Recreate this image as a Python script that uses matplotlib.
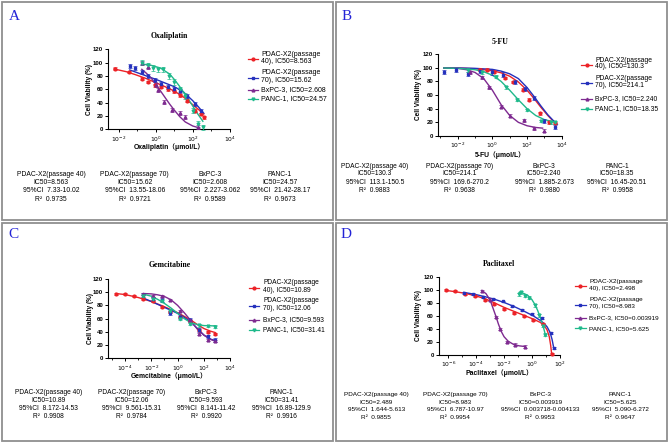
import matplotlib
matplotlib.use('Agg')
import numpy as np
import matplotlib.pyplot as plt
from matplotlib.patches import Rectangle
from matplotlib.lines import Line2D
from matplotlib.ticker import FixedLocator, LogFormatterMathtext, NullFormatter

plt.rcParams['mathtext.fontset'] = 'custom'
plt.rcParams['mathtext.rm'] = 'Liberation Sans'
plt.rcParams['mathtext.bf'] = 'Liberation Sans:bold'

W, H = 668, 442
SANS = 'Liberation Sans'
SERIF = 'Liberation Serif'

colors = ['#ec2227', '#2531bd', '#7e2a90', '#1fb98b']
markers = ['o', 's', '^', 'v']
cell_lines = ['PDAC-X2(passage 40)', 'PDAC-X2(passage 70)', 'BxPC-3', 'PANC-1']

# ---------------- Oxaliplatin (A) ----------------  x values are log10(umol/L)
oxa_fit_x = [[-2.25, -1.6, -1.1, -0.5, 0.0, 0.5, 1.0, 1.5, 2.0, 2.3, 2.6],
             [-1.4, -1.0, -0.5, 0.0, 0.5, 1.0, 1.5, 2.0, 2.3, 2.6],
             [-0.75, -0.5, -0.25, 0.0, 0.25, 0.5, 0.75, 1.0, 1.3, 1.6, 2.0, 2.3],
             [-0.75, -0.25, 0.25, 0.75, 1.0, 1.25, 1.5, 1.75, 2.0, 2.25, 2.55]]
oxa_fit_y = [[90.5, 86.5, 82, 76, 70, 64, 57.5, 48.5, 37, 30, 23],
             [89, 85, 80, 75, 69.5, 64, 56, 43, 34, 24],
             [90, 84, 77, 68, 58, 48, 38, 29, 19, 11, 5, 2.5],
             [98, 96, 92, 83, 75, 66, 56, 46, 35, 24, 12]]
oxa_pts_x = [[-2.2, -1.45, -0.75, -0.4, -0.05, 0.3, 0.65, 1.0, 1.3, 1.7, 2.1, 2.45, 2.6],
             [-1.4, -1.1, -0.75, -0.4, -0.05, 0.3, 0.65, 1.0, 1.3, 1.7, 2.1, 2.45],
             [-0.72, -0.43, 0.0, 0.15, 0.47, 0.86, 1.33, 1.59, 2.28],
             [-0.72, -0.4, -0.14, 0.12, 0.38, 0.72, 0.98, 1.29, 1.59, 2.0, 2.28, 2.55]]
oxa_pts_y = [[91, 86, 76, 71, 66, 64, 60, 57, 51, 43, 28, 23, 18],
             [95, 92, 86, 80, 74, 68, 64, 60, 58, 50, 38, 27],
             [100, 94, 67, 59, 41, 29, 25, 18, 3],
             [100, 96, 92, 90, 90, 80, 71, 60, 50, 28, 8, 3]]
oxa_err = [2, 3, 3, 4]
oxa_leg_ic50 = ['8.563', '15.62', '2.608', '24.57']
oxa_ic50 = ['8.563', '15.62', '2.608', '24.57']
oxa_ci = ['7.33-10.02', '13.55-18.06', '2.227-3.062', '21.42-28.17']
oxa_r2 = ['0.9735', '0.9721', '0.9589', '0.9673']

# ---------------- 5-FU (B) ----------------
fu_fit_x = [[-2.8, -2.0, -1.0, 0.0, 0.5, 1.0, 1.5, 2.0, 2.4, 2.8, 3.2, 3.5, 3.65],
            [-2.8, -2.0, -1.0, 0.0, 0.5, 1.0, 1.5, 2.0, 2.4, 2.8, 3.2, 3.5, 3.75],
            [-2.8, -2.0, -1.5, -1.0, -0.5, 0.0, 0.5, 1.0, 1.5, 2.0, 2.5, 2.9],
            [-2.8, -2.0, -1.0, -0.5, 0.0, 0.5, 1.0, 1.5, 2.0, 2.5, 3.0, 3.65]]
fu_fit_y = [[99.5, 99.5, 98.5, 95.5, 92.5, 87.5, 79, 67, 55, 42, 30, 22, 19],
            [99.5, 99.5, 99, 97.5, 95, 91, 84, 71, 58, 44, 31, 23, 17],
            [99.5, 99, 97, 93, 84, 67, 46, 30, 20, 15, 12.5, 11.5],
            [99.5, 99, 97, 94, 89, 80, 67, 53, 40, 30, 24, 20]]
fu_pts_x = [[-0.7, -0.3, 0.1, 0.75, 1.2, 1.75, 2.1, 2.75, 3.25, 3.6],
            [-2.8, -2.1, -1.4, -0.7, 0.0, 0.6, 1.3, 1.9, 2.4, 3.0, 3.6],
            [-1.3, -0.6, -0.2, 0.5, 1.0, 1.8, 2.4, 3.0],
            [-1.4, -0.6, 0.2, 0.8, 1.4, 2.0, 2.8, 3.4, 3.6]]
fu_pts_y = [[97, 97, 94, 85, 79, 68, 53, 33, 20, 19],
            [94, 96, 91, 95, 93, 90, 79, 69, 56, 22, 13],
            [93, 86, 71, 43, 30, 23, 11, 8],
            [96, 93, 87, 71, 53, 38, 22, 20, 20]]
fu_err = [2, 3, 2, 2]
fu_leg_ic50 = ['130.3', '214.1', '2.240', '18.35']
fu_ic50 = ['130.3', '214.1', '2.240', '18.35']
fu_ci = ['113.1-150.5', '169.6-270.2', '1.885-2.673', '16.45-20.51']
fu_r2 = ['0.9883', '0.9638', '0.9880', '0.9958']

# ---------------- Gemcitabine (C) ----------------
gem_fit_x = [[-4.7, -4.0, -3.0, -2.0, -1.0, 0.0, 1.0, 1.5, 2.0, 2.5, 2.85],
             [-2.6, -2.0, -1.0, 0.0, 0.5, 1.0, 1.5, 2.0, 2.5, 2.85],
             [-2.6, -2.0, -1.5, -1.0, -0.5, 0.0, 0.5, 1.0, 1.5, 2.0, 2.5, 2.85],
             [-2.6, -2.0, -1.5, -1.0, -0.5, 0.0, 0.5, 1.0, 1.5, 2.0, 2.85]]
gem_fit_y = [[98, 96.5, 92, 86, 78, 69, 58, 51, 45, 41, 39],
             [91, 86, 77, 68, 62, 55, 45, 35, 29, 27],
             [98, 97.5, 96, 93.5, 88.5, 80, 69, 57, 44, 35, 28.5, 26],
             [97, 94, 89, 83, 76, 68, 60, 54, 51, 49.5, 49]]
gem_pts_x = [[-4.7, -4.0, -3.3, -2.6, -1.9, -1.2, -0.6, 0.2, 0.9, 1.6, 2.3, 2.85],
             [-2.6, -1.9, -1.2, -0.6, 0.2, 0.9, 1.6, 2.3, 2.85],
             [-2.6, -1.9, -1.2, -0.6, 0.2, 0.9, 1.6, 2.3, 2.85],
             [-2.6, -1.9, -1.2, -0.6, 0.2, 0.9, 1.6, 2.3, 2.85]]
gem_pts_y = [[98, 97, 94, 89, 86, 78, 70, 62, 57, 43, 40, 37],
             [96, 90, 88, 68, 62, 58, 43, 33, 27],
             [97, 95, 94, 88, 71, 58, 37, 28, 26],
             [95, 90, 87, 72, 60, 52, 50, 49, 48]]
gem_err = [1.5, 3, 1.5, 2]
gem_leg_ic50 = ['10.89', '12.06', '9.593', '31.41']
gem_ic50 = ['10.89', '12.06', '9.593', '31.41']
gem_ci = ['8.172-14.53', '9.561-15.31', '8.141-11.42', '16.89-129.9']
gem_r2 = ['0.9908', '0.9784', '0.9920', '0.9916']

# ---------------- Paclitaxel (D) ----------------
pac_fit_x = [[-6.2, -5.5, -4.8, -4.1, -3.4, -2.7, -2.0, -1.3, -0.6, 0.1, 0.6, 0.9, 1.1, 1.25, 1.35, 1.43],
             [-4.9, -4.1, -3.4, -2.7, -2.0, -1.3, -0.6, 0.1, 0.6, 0.9, 1.1, 1.3, 1.45, 1.57],
             [-3.6, -3.3, -3.0, -2.8, -2.6, -2.4, -2.2, -2.0, -1.7, -1.3, -0.9, -0.5],
             [-0.9, -0.6, -0.3, 0.0, 0.2, 0.4, 0.6, 0.8, 0.97]]
pac_fit_y = [[99, 97, 94.5, 91, 86.5, 80, 73, 67, 61, 55, 50, 45, 38, 28, 15, 0],
             [96, 93, 89.5, 85.5, 80.5, 74.5, 67.5, 60, 53, 48, 43, 35, 24, 11],
             [99, 94, 84, 72, 60, 47, 36, 28, 21, 16, 14, 13],
             [96, 94.5, 91.5, 85, 78, 69, 58, 45, 31]]
pac_pts_x = [[-6.2, -5.5, -4.8, -4.1, -3.4, -2.7, -2.0, -1.3, -0.6, 0.1, 0.8, 1.43],
             [-4.9, -4.2, -3.5, -2.8, -2.1, -1.4, -0.7, 0.0, 0.7, 1.35, 1.57],
             [-3.58, -3.0, -2.6, -2.3, -1.8, -1.2, -0.5],
             [-0.9, -0.75, -0.5, -0.2, 0.2, 0.5, 0.8, 0.97]]
pac_pts_y = [[99, 98, 93, 91, 85, 78, 70, 65, 60, 54, 47, 1],
             [95, 93, 89, 86, 82, 75, 69, 63, 56, 34, 11],
             [98, 85, 58, 40, 20, 16, 13],
             [93, 96, 91, 88, 76, 61, 45, 31]]
pac_err = [1.5, 1.5, 2, 2]
pac_leg_ic50 = ['2.498', '8.983', '0.003919', '5.625']
pac_ic50 = ['2.489', '8.983', '0.003919', '5.625']
pac_ci = ['1.644-5.613', '6.787-10.97', '0.003718-0.004133', '5.090-6.272']
pac_r2 = ['0.9855', '0.9954', '0.9953', '0.9647']

fig = plt.figure(figsize=(W / 100, H / 100), dpi=100)


def fx(x):
    return x / W


def fy(y):
    return 1 - y / H


def text(x, y, s, size, **kw):
    kw.setdefault('family', SANS)
    kw.setdefault('ha', 'center')
    kw.setdefault('va', 'center')
    fig.text(fx(x), fy(y), s, fontsize=size, **kw)


panels = [
    dict(origin=(0, 0), letter='A', drug='Oxaliplatin', unit='Oxaliplatin（μmol/L）',
         axes=(108.3, 49.3, 229.7, 129.3), xlim=(-2.56, 4), xticks=[-2, 0, 2, 4],
         title_y=36, xlabel_y=146.7, ylabel_x=89.3, leg_fs=5.0, tab_fs=4.9,
         leg=(248, 258, 261, [(54.3, 61.7), (72.7, 80), 90, 99]),
         cols=[51, 134.7, 210, 280], rows=[175, 182.7, 191, 200], letter_xy=(9.3, 16.7),
         fit_x=oxa_fit_x, fit_y=oxa_fit_y, pts_x=oxa_pts_x, pts_y=oxa_pts_y, err=oxa_err,
         leg_ic50=oxa_leg_ic50, ic50=oxa_ic50, ci=oxa_ci, r2=oxa_r2),
    dict(origin=(334, 0), letter='B', drug='5-FU', unit='5-FU（μmol/L）',
         axes=(104.3, 54, 227.7, 136), xlim=(-3.12, 4), xticks=[-2, 0, 2, 4],
         title_y=41.7, xlabel_y=155, ylabel_x=84.3, leg_fs=4.9, tab_fs=4.8,
         leg=(246.7, 258.3, 261, [(60, 66.7), (78.3, 85.7), 99, 109]),
         cols=[40.7, 125.7, 210, 283], rows=[166.7, 174, 182.3, 191], letter_xy=(7.3, 16),
         fit_x=fu_fit_x, fit_y=fu_fit_y, pts_x=fu_pts_x, pts_y=fu_pts_y, err=fu_err,
         leg_ic50=fu_leg_ic50, ic50=fu_ic50, ci=fu_ci, r2=fu_r2),
    dict(origin=(0, 221), letter='C', drug='Gemcitabine', unit='Gemcitabine（μmol/L）',
         axes=(108.3, 58, 230.3, 137.3), xlim=(-5.27, 4), xticks=[-4, -2, 0, 2, 4],
         title_y=44.3, xlabel_y=155.5, ylabel_x=90, leg_fs=4.75, tab_fs=4.8,
         leg=(249, 259, 263, [(61.7, 69), (80, 87.7), 99, 109]),
         cols=[48.3, 131.7, 206, 281.7], rows=[171.7, 179.3, 187.3, 196], letter_xy=(8.3, 13.3),
         fit_x=gem_fit_x, fit_y=gem_fit_y, pts_x=gem_pts_x, pts_y=gem_pts_y, err=gem_err,
         leg_ic50=gem_leg_ic50, ic50=gem_ic50, ci=gem_ci, r2=gem_r2),
    dict(origin=(334, 221), letter='D', drug='Paclitaxel', unit='Paclitaxel（μmol/L）',
         axes=(105, 55.7, 225.7, 134), xlim=(-6.68, 2), xticks=[-6, -4, -2, 0, 2],
         title_y=42.7, xlabel_y=152.5, ylabel_x=85, leg_fs=4.6, tab_fs=4.55,
         leg=(240.7, 251.7, 255, [(60, 67.3), (78.7, 85.7), 96.7, 107.3]),
         cols=[42.3, 121, 206, 286], rows=[173.8, 181.3, 188.6, 196.9], letter_xy=(6.7, 14),
         fit_x=pac_fit_x, fit_y=pac_fit_y, pts_x=pac_pts_x, pts_y=pac_pts_y, err=pac_err,
         leg_ic50=pac_leg_ic50, ic50=pac_ic50, ci=pac_ci, r2=pac_r2),
]

for p in panels:
    ox, oy = p['origin']
    # panel frame
    fig.patches.append(Rectangle((fx(ox + 1.5), fy(oy + 219.5)), 331 / W, 218 / H,
                                 transform=fig.transFigure, fill=False,
                                 edgecolor='#8f8f8f', linewidth=1.3))
    text(ox + p['letter_xy'][0], oy + p['letter_xy'][1], p['letter'], 11,
         family=SERIF, ha='left', color='#2323d6')

    l, t, r, b = p['axes']
    ax = fig.add_axes([fx(ox + l), fy(oy + b), (r - l) / W, (b - t) / H])
    for i in range(4):
        ax.plot(10 ** np.array(p['fit_x'][i]), p['fit_y'][i], color=colors[i],
                lw=1.0, clip_on=False, zorder=3)
        ax.errorbar(10 ** np.array(p['pts_x'][i]), p['pts_y'][i], yerr=p['err'][i],
                    fmt=markers[i], ms=2.0, color=colors[i], elinewidth=0.5,
                    capsize=1.2, capthick=0.5, clip_on=False, zorder=4)
    ax.set_xscale('log')
    ax.set_xlim(10 ** p['xlim'][0], 10 ** p['xlim'][1])
    ax.set_ylim(0, 120)
    ax.set_yticks(range(0, 121, 20))
    ax.xaxis.set_major_locator(FixedLocator([10.0 ** k for k in p['xticks']]))
    ax.xaxis.set_major_formatter(LogFormatterMathtext())
    minors = [10.0 ** k for k in range(p['xticks'][0] - 1, p['xticks'][-1]) if k not in p['xticks']]
    ax.xaxis.set_minor_locator(FixedLocator(minors))
    ax.xaxis.set_minor_formatter(NullFormatter())
    for s in ['top', 'right']:
        ax.spines[s].set_visible(False)
    for s in ['left', 'bottom']:
        ax.spines[s].set_linewidth(0.8)
    ax.tick_params(which='major', length=2.5, width=0.7, labelsize=4.3, pad=1.2)
    ax.tick_params(which='minor', length=1.5, width=0.6)
    for lab in ax.get_yticklabels():
        lab.set_fontweight('bold')
        lab.set_family(SANS)
    ax.patch.set_alpha(0)

    # titles and axis labels
    cx = ox + (l + r) / 2
    text(cx, oy + p['title_y'], p['drug'], 5.6, family=SERIF, fontweight='bold')
    text(cx, oy + p['xlabel_y'], p['unit'], 4.9, family=[SANS, 'Noto Sans CJK SC'],
         fontweight='bold')
    text(ox + p['ylabel_x'], oy + (t + b) / 2, 'Cell Viability (%)', 4.7,
         fontweight='bold', rotation=90)

    # legend
    x0, x1, xt, ys = p['leg']
    fs = p['leg_fs']
    for i in range(4):
        if i < 2:
            y1, y2 = ys[i]
            ym = (y1 + y2) / 2 + 1.3
            head, tail = cell_lines[i].split(' ')
            text(ox + xt, oy + y1, head, fs, ha='left')
            text(ox + xt, oy + y2, tail + ', IC50=' + p['leg_ic50'][i], fs, ha='left')
        else:
            ym = ys[i]
            text(ox + xt, oy + ym, cell_lines[i] + ', IC50=' + p['leg_ic50'][i], fs, ha='left')
        fig.lines.append(Line2D([fx(ox + x0), fx(ox + x1)], [fy(oy + ym)] * 2,
                                transform=fig.transFigure, color=colors[i], lw=0.9))
        fig.lines.append(Line2D([fx(ox + (x0 + x1) / 2)], [fy(oy + ym)], marker=markers[i],
                                ms=2.0, transform=fig.transFigure, color=colors[i]))

    # statistics table
    tfs = p['tab_fs']
    for i in range(4):
        cxs = ox + p['cols'][i]
        rows = p['rows']
        text(cxs, oy + rows[0], cell_lines[i], tfs)
        text(cxs, oy + rows[1], 'IC50=' + p['ic50'][i], tfs)
        text(cxs, oy + rows[2], '95%CI  ' + p['ci'][i], tfs)
        text(cxs, oy + rows[3], 'R²  ' + p['r2'][i], tfs)

fig.savefig('out.png', dpi=100, facecolor='white')
